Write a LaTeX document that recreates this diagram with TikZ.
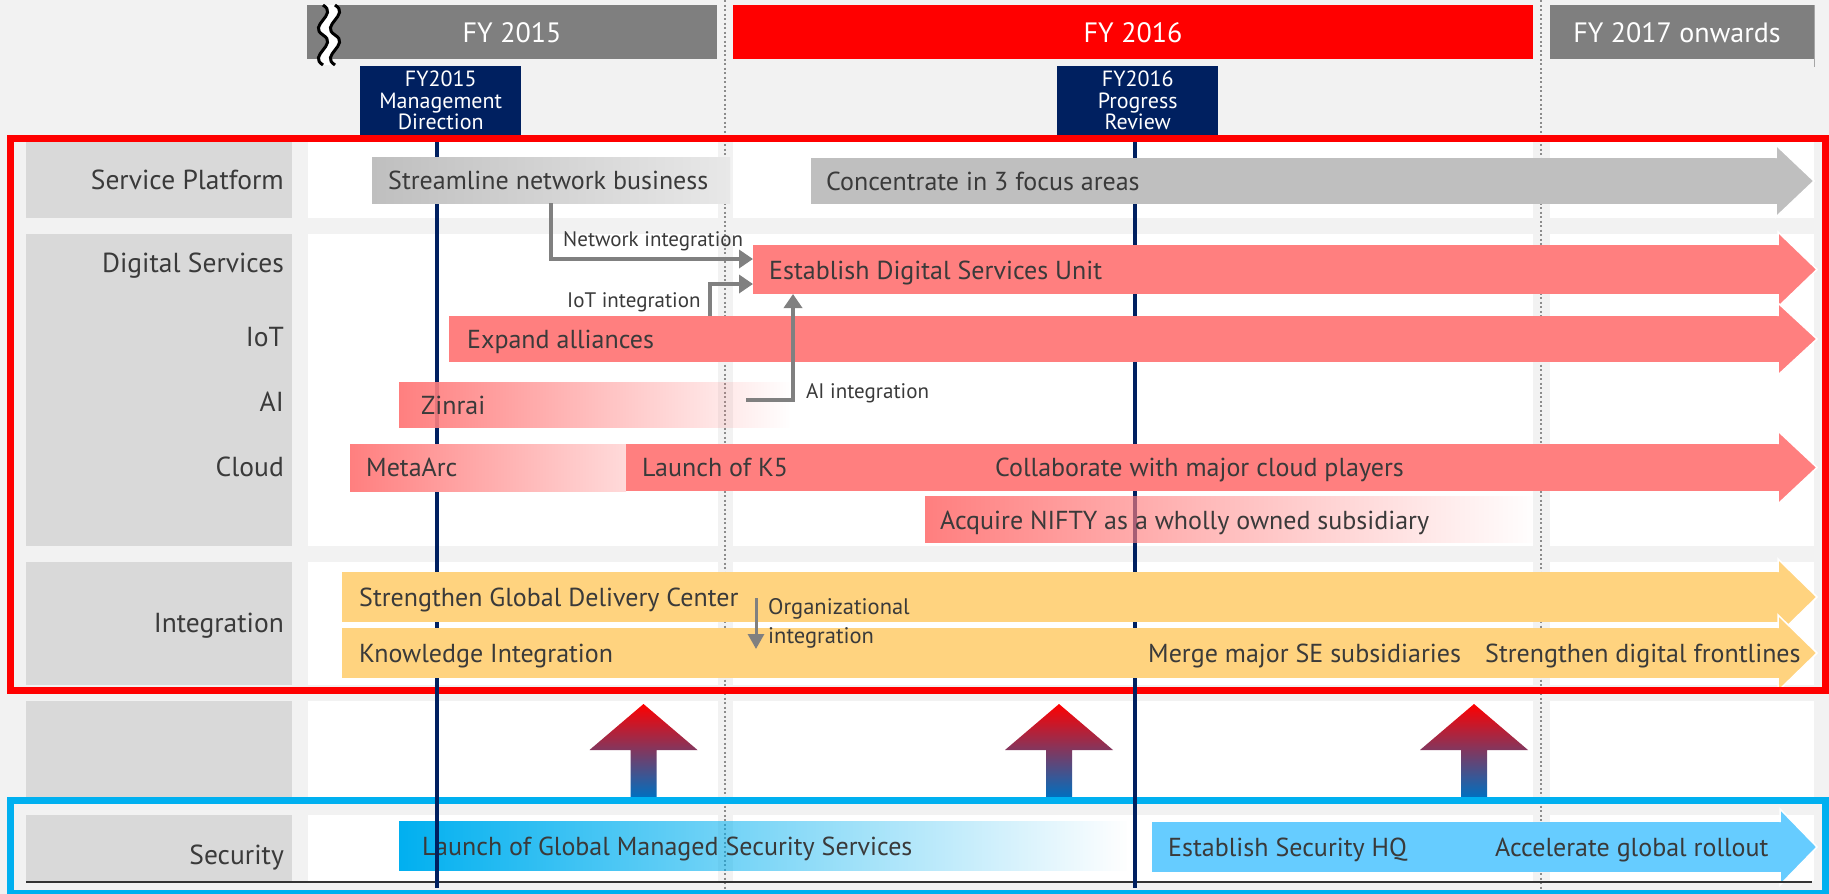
\documentclass[tikz,border=0pt]{standalone}
\usepackage{fontspec}
\setmainfont{PT Sans}
\usetikzlibrary{arrows.meta,fadings}
\definecolor{bg}{HTML}{F2F2F2}
\definecolor{lblgray}{HTML}{D9D9D9}
\definecolor{hdrgray}{HTML}{7F7F7F}
\definecolor{navy}{HTML}{002060}
\definecolor{txt}{HTML}{3A3A3A}
\definecolor{spgray}{HTML}{BFBFBF}
\definecolor{spfade}{HTML}{E8E8E8}
\definecolor{salmon}{HTML}{FF7F7F}
\definecolor{salmonfade}{HTML}{FFDADA}
\definecolor{amber}{HTML}{FFD37F}
\definecolor{cyanb}{HTML}{00B0F0}
\definecolor{skyb}{HTML}{66CCFF}
\definecolor{connc}{HTML}{808080}
\definecolor{dotc}{HTML}{8C8C8C}
\definecolor{upblue}{HTML}{0070C0}
\definecolor{frred}{HTML}{FF0000}
\tikzfading[name=fadeR, left color=transparent!0, right color=transparent!100]
\newcommand\myHead[5]{% x, headtop, headbottom, tipx, color
  \fill[#5] (#1,#2) -- (#4,{(#2+#3)/2}) -- (#1,#3) -- cycle;
  \draw[white, line width=1.5pt, line join=miter] ({#1},{#2+13}) -- (#1,#2) -- (#4,{(#2+#3)/2}) -- (#1,#3) -- ({#1},{#3-13});}
\newcommand\myUpArrow[1]{%
  \shade[top color=frred, bottom color=upblue]
    (#1,704) -- ({#1+54},750) -- ({#1+13},750) -- ({#1+13},797) -- ({#1-13},797)
    -- ({#1-13},750) -- ({#1-54},750) -- cycle;}
\begin{document}
\begin{tikzpicture}[x=1pt,y=-1pt,
  lbl/.style={font=\fontsize{27.5}{29}\selectfont, text=txt, anchor=east, inner sep=0pt, text height=19pt, text depth=0pt},
  bartxt/.style={font=\fontsize{26}{28}\selectfont, text=txt, anchor=west, inner sep=0pt, text height=18pt, text depth=0pt},
  smalltxt/.style={font=\fontsize{21}{29}\selectfont, text=txt, inner sep=0pt},
  hdrtxt/.style={font=\fontsize{28}{30}\selectfont, text=white, inner sep=0pt, text height=20pt, text depth=0pt},
  barbox/.style={rectangle, inner sep=0pt, outer sep=0pt, anchor=north west, draw=none},
  navybox/.style={rectangle, fill=navy, text=white, align=center, inner sep=0pt, anchor=north west,
     minimum width=161pt, minimum height=69pt, font=\fontsize{22}{21.5}\selectfont},
  conn/.style={draw=connc, line width=4pt, -{Triangle[length=14pt,width=18pt]}},
  dotline/.style={draw=dotc, line width=2pt, dash pattern=on 2pt off 2.5pt},
  navyline/.style={draw=navy, line width=4pt},
]
\useasboundingbox (0,0) rectangle (1829,894);
\fill[bg] (0,0) rectangle (1829,894);

% label column
\fill[lblgray] (26,140) rectangle (292,218);
\fill[lblgray] (26,234) rectangle (292,546);
\fill[lblgray] (26,562) rectangle (292,685);
\fill[lblgray] (26,701) rectangle (292,797);
\fill[lblgray] (26,815) rectangle (292,881);

% white panels (three columns per row)
\foreach \ya/\yb in {140/218, 234/546, 562/685, 701/797, 815/881}{
  \fill[white] (308,\ya) rectangle (718,\yb);
  \fill[white] (733,\ya) rectangle (1533,\yb);
  \fill[white] (1550,\ya) rectangle (1814,\yb);
}

% dotted period lines
\draw[dotline] (724.5,0) -- (724.5,890);
\draw[dotline] (1541,0) -- (1541,890);

% header bars
\fill[hdrgray] (307,5) rectangle (717,59);
\fill[frred] (733,5) rectangle (1533,59);
\fill[hdrgray] (1550,5) rectangle (1814,59);
\draw[black!35, line width=1pt] (1814,5) -- (1814,67);
\node[hdrtxt] (h15) at (512,32) {FY 2015};
\node[hdrtxt] (h16) at (1133,32) {FY 2016};
\node[hdrtxt] (h17) at (1677,32) {FY 2017 onwards};
% break symbol
\fill[white] (323,5) .. controls (339,15) and (307,25) .. (323,35) .. controls (339,45) and (307,55) .. (323,65)
  -- (335,65) .. controls (319,55) and (351,45) .. (335,35) .. controls (319,25) and (351,15) .. (335,5) -- cycle;
\draw[black, line width=3pt] (323,5) .. controls (339,15) and (307,25) .. (323,35) .. controls (339,45) and (307,55) .. (323,65);
\draw[black, line width=3pt] (335,5) .. controls (351,15) and (319,25) .. (335,35) .. controls (351,45) and (319,55) .. (335,65);

% navy milestone boxes
\node[navybox] (nb15) at (360,66) {FY2015\\Management\\Direction};
\node[navybox] (nb16) at (1057,66) {FY2016\\Progress\\Review};

% row labels
\node[lbl] (lsp) at (284,180) {Service Platform};
\node[lbl] (lds) at (284,263) {Digital Services};
\node[lbl] (liot) at (284,337) {IoT};
\node[lbl] (lai) at (284,402) {AI};
\node[lbl] (lcl) at (284,467) {Cloud};
\node[lbl] (lint) at (284,623) {Integration};
\node[lbl] (lsec) at (284,855) {Security};

% navy lines (under bars)
\draw[navyline] (nb15.south -| 437,0) -- (437,888);
\draw[navyline] (nb16.south -| 1135,0) -- (1135,888);

% ---- Service Platform
\node[barbox, left color=spgray, right color=spfade, minimum width=358pt, minimum height=46pt] (stream) at (372,157) {};
\node[barbox, fill=spgray, minimum width=966pt, minimum height=46pt] (conc) at (811,158) {};
\myHead{1776}{145}{217}{1814}{spgray}

% ---- Digital
\node[barbox, fill=salmon, minimum width=1026pt, minimum height=49pt] (dsu) at (753,245) {};
\myHead{1778}{232}{307}{1817}{salmon}
\node[barbox, fill=salmon, minimum width=1330pt, minimum height=46pt] (iot) at (449,316) {};
\myHead{1778}{303}{375}{1817}{salmon}
\fill[salmon, path fading=fadeR] (399,382) rectangle (790,428);
\node[barbox, left color=salmon, right color=salmonfade, minimum width=276pt, minimum height=47pt] (meta) at (350,444) {};
\node[barbox, fill=salmon, minimum width=1153pt, minimum height=47pt] (k5) at (626,444) {};
\myHead{1778}{431}{504}{1817}{salmon}
\fill[salmon, path fading=fadeR] (925,496) rectangle (1534,543);

% ---- Integration
\node[barbox, fill=amber, minimum width=1437pt, minimum height=50pt] (gdc) at (342,572) {};
\myHead{1778}{559}{635}{1817}{amber}
\node[barbox, fill=amber, minimum width=1437pt, minimum height=50pt] (kn) at (342,628) {};
\myHead{1778}{615}{691}{1817}{amber}

% ---- Security
\fill[cyanb, path fading=fadeR] (399,821) rectangle (1128,871);
\node[barbox, fill=skyb, minimum width=629pt, minimum height=50pt] (shq) at (1152,822) {};
\myHead{1780}{809}{885}{1817}{skyb}

% bar texts
\node[bartxt] (tstream) at (388,180) {Streamline network business};
\node[bartxt] (tconc) at (826,181) {Concentrate in 3 focus areas};
\node[bartxt] (tdsu) at (769,270) {Establish Digital Services Unit};
\node[bartxt] (tiot) at (467,339) {Expand alliances};
\node[bartxt] (tzin) at (421,405) {Zinrai};
\node[bartxt] (tmeta) at (366,467) {MetaArc};
\node[bartxt] (tk5) at (642,467) {Launch of K5};
\node[bartxt] (tcoll) at (995,467) {Collaborate with major cloud players};
\node[bartxt] (tnifty) at (940,520) {Acquire NIFTY as a wholly owned subsidiary};
\node[bartxt] (tgdc) at (359,597) {Strengthen Global Delivery Center};
\node[bartxt] (tkn) at (359,653) {Knowledge Integration};
\node[bartxt] (tmerge) at (1148,653) {Merge major SE subsidiaries};
\node[bartxt] (tfront) at (1485,653) {Strengthen digital frontlines};
\node[bartxt] (tgmss) at (422,846) {Launch of Global Managed Security Services};
\node[bartxt] (tshq) at (1168,847) {Establish Security HQ};
\node[bartxt] (tacc) at (1495,847) {Accelerate global rollout};

% connectors
\draw[conn] ([xshift=179pt]stream.south west) |- ([yshift=10.5pt]dsu.west);
\draw[conn] ([xshift=261pt]iot.north west) |- ([yshift=-14.5pt]dsu.west);
\coordinate (aistart) at (746,400);
\draw[conn] (aistart) -| ([xshift=40pt]dsu.south west);
\coordinate (orgA) at (756,598);
\coordinate (orgB) at (756,649);
\draw[draw=connc, line width=3pt, -{Triangle[length=15pt,width=16pt]}] (orgA) -- (orgB);

\node[smalltxt, anchor=west] (lnet) at (563,241) {Network integration};
\node[smalltxt, anchor=west] (liotint) at (567,302) {IoT integration};
\node[smalltxt, anchor=west] (laiint) at (806,393) {AI integration};
\node[smalltxt, anchor=west, align=left, font=\fontsize{22.5}{29}\selectfont] (lorg) at (768,623) {Organizational\\integration};

% upward arrows
\myUpArrow{643.5}
\myUpArrow{1059}
\myUpArrow{1474}

% bottom rule
\draw[black!80, line width=2pt] (26,882) -- (1812,882);

% frames
\draw[frred, line width=7pt] (10.5,138.5) rectangle (1825.5,690.5);
\draw[cyanb, line width=7pt] (10.5,800.5) rectangle (1825.5,893.5);

% navy lines over frames
\draw[navyline] (437,680) -- (437,700);
\draw[navyline] (1135,680) -- (1135,700);
\draw[navyline] (437,795) -- (437,888);
\draw[navyline] (1135,795) -- (1135,888);
\end{tikzpicture}
\end{document}
